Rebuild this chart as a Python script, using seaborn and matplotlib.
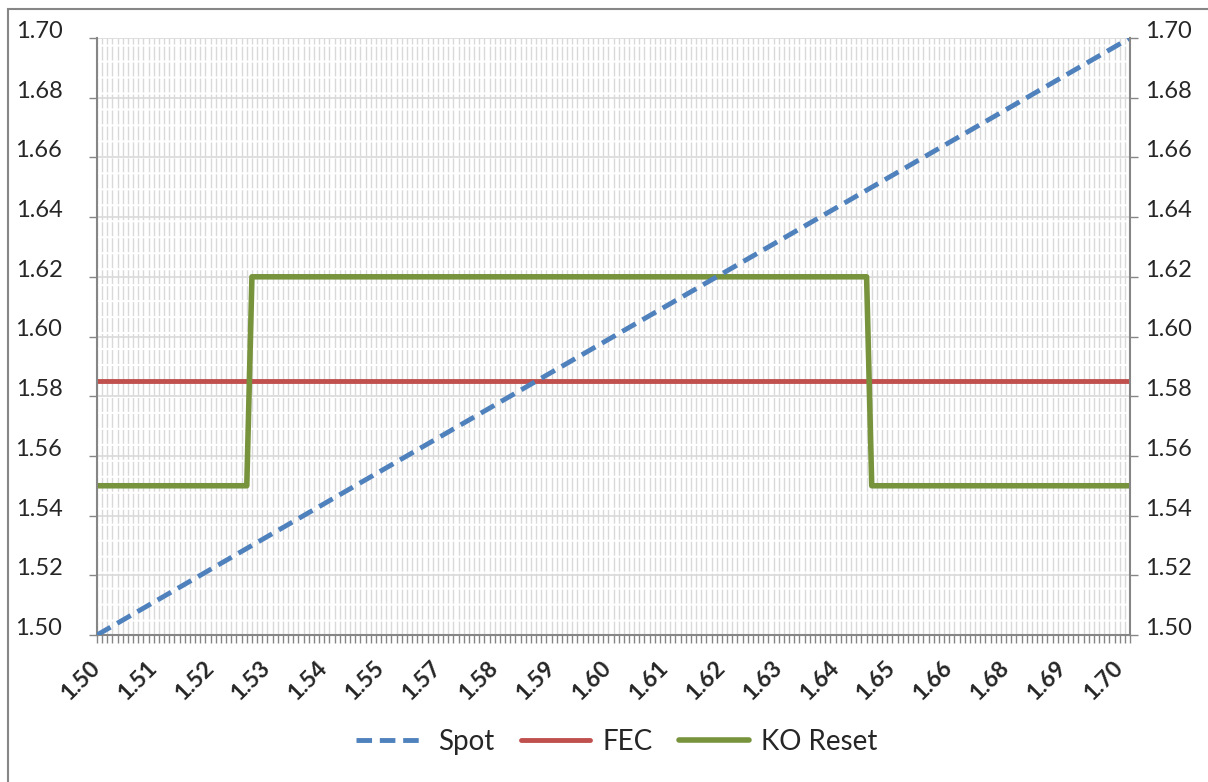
import numpy as np
import pandas as pd
import seaborn as sns
import matplotlib.pyplot as plt
from matplotlib.patches import Rectangle

# values
spot_x = [1.50, 1.70]
spot_y = [1.50, 1.70]
fec_x = [1.50, 1.70]
fec_y = [1.585, 1.585]
ko_x = [1.500, 1.529, 1.530, 1.649, 1.650, 1.700]
ko_y = [1.55, 1.55, 1.62, 1.62, 1.55, 1.55]

# category axis: one category every 0.001, a label every 11th category
x_start, x_end, x_step = 1.50, 1.70, 0.001
label_every = 11
xtick_labels = ["1.50", "1.51", "1.52", "1.53", "1.54", "1.55", "1.57", "1.58",
                "1.59", "1.60", "1.61", "1.62", "1.63", "1.64", "1.65", "1.66",
                "1.68", "1.69", "1.70"]
ytick_values = [1.50, 1.52, 1.54, 1.56, 1.58, 1.60, 1.62, 1.64, 1.66, 1.68, 1.70]

sns.set_theme(style="white")
plt.rcParams['font.family'] = ['Lato', 'DejaVu Sans']

W, H = 1208, 782
fig = plt.figure(figsize=(W / 100, H / 100), dpi=100)
ax = fig.add_axes([97 / W, 1 - 635 / H, (1130 - 97) / W, (635 - 38) / H])

grey = "#868686"
grid_col = "#d9d9d9"

categories = np.round(np.arange(x_start, x_end + x_step / 2, x_step), 3)

# grid first
ax.set_xlim(x_start, x_end)
ax.set_ylim(1.50, 1.70)
ax.set_xticks(categories, minor=True)
ax.set_xticks(categories[::label_every])
ax.set_xticklabels(xtick_labels, rotation=45, ha="right", va="center",
                   rotation_mode="anchor", fontsize=16.5, fontweight="bold")
ax.set_yticks(ytick_values)
ax.set_yticklabels([f"{v:.2f}" for v in ytick_values], fontsize=17, va="baseline")
ax.grid(which="minor", axis="x", color=grid_col, lw=1.0, ls=(0, (10, 1.5)))
ax.grid(which="major", axis="x", color=grid_col, lw=1.0, ls=(0, (10, 1.5)))
ax.grid(which="major", axis="y", color=grid_col, lw=1.2)
ax.set_axisbelow(True)

ax.tick_params(axis="x", which="both", direction="out", length=6, width=1,
               color=grey, pad=15, bottom=True)
ax.tick_params(axis="y", which="major", direction="out", length=6, width=1,
               color=grey, pad=19, left=True)

for s in ["top", "right"]:
    ax.spines[s].set_visible(False)
for s in ["left", "bottom"]:
    ax.spines[s].set_color(grey)
    ax.spines[s].set_linewidth(1.5)

spot_df = pd.DataFrame({"x": spot_x, "y": spot_y})
fec_df = pd.DataFrame({"x": fec_x, "y": fec_y})
ko_df = pd.DataFrame({"x": ko_x, "y": ko_y})

sns.lineplot(data=fec_df, x="x", y="y", ax=ax, color="#c0504d", lw=3.5,
             label="FEC", legend=False)
sns.lineplot(data=ko_df, x="x", y="y", ax=ax, color="#77933c", lw=4,
             label="KO Reset", legend=False, sort=False)
sns.lineplot(data=spot_df, x="x", y="y", ax=ax, color="#4f81bd", lw=3.5,
             label="Spot", legend=False)
ax.lines[-1].set_dashes((3.2, 1.6))
ax.lines[-1].set_zorder(5)
ax.set_xlabel("")
ax.set_ylabel("")

# secondary axis on the right with the same scale
ax2 = ax.twinx()
ax2.set_ylim(1.50, 1.70)
ax2.set_yticks(ytick_values)
ax2.set_yticklabels([f"{v:.2f}" for v in ytick_values], fontsize=17, va="baseline")
ax2.tick_params(axis="y", direction="out", length=6, width=1, color=grey, pad=5)
ax2.grid(False)
for s in ["top", "left", "bottom"]:
    ax2.spines[s].set_visible(False)
ax2.spines["right"].set_color(grey)
ax2.spines["right"].set_linewidth(1.5)

handles, labels = ax.get_legend_handles_labels()
order = [labels.index(n) for n in ["Spot", "FEC", "KO Reset"]]
fig.legend([handles[i] for i in order], [labels[i] for i in order],
           loc="center", bbox_to_anchor=(617 / W, 1 - 742 / H), ncol=3,
           frameon=False, fontsize=20, handlelength=2.5, handletextpad=0.45,
           columnspacing=0.95)

# chart area border
fig.patches.append(Rectangle((8 / W, -0.05), 1.2, (H - 9) / H + 0.05,
                             transform=fig.transFigure, fill=False,
                             edgecolor=grey, lw=1.5))

fig.savefig("out.png", dpi=100)
